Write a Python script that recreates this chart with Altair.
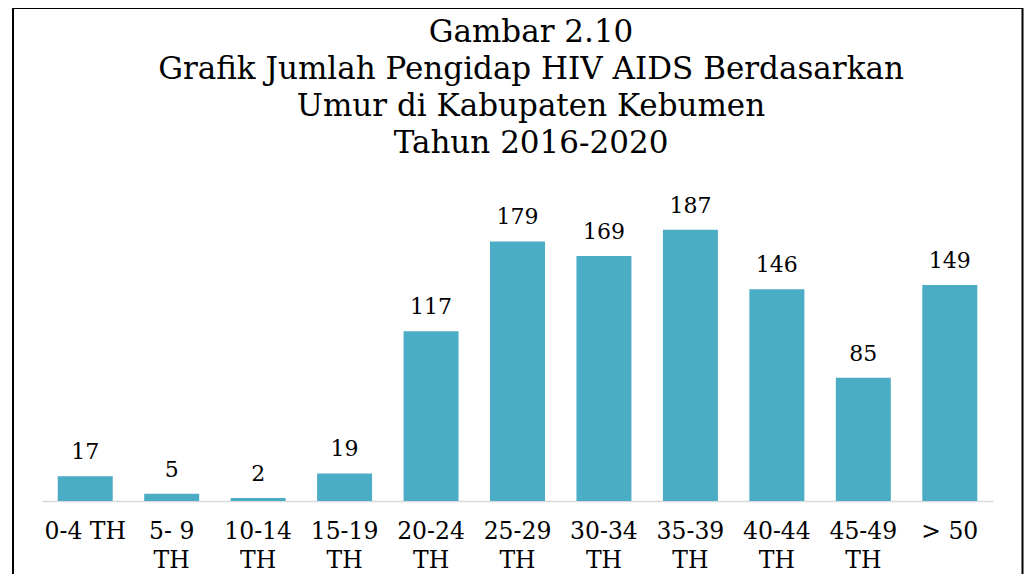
import altair as alt
import pandas as pd

categories = ["0-4 TH", "5- 9 TH", "10-14 TH", "15-19 TH", "20-24 TH", "25-29 TH",
              "30-34 TH", "35-39 TH", "40-44 TH", "45-49 TH", "> 50"]
values = [17, 5, 2, 19, 117, 179, 169, 187, 146, 85, 149]
title_lines = ["Gambar 2.10", "Grafik Jumlah Pengidap HIV AIDS Berdasarkan",
               "Umur di Kabupaten Kebumen", "Tahun 2016-2020"]

df = pd.DataFrame({"umur": categories, "jumlah": values})

W, H = 951, 290
PL, PT = 34, 203
PR = 1016 - PL - W
PB = 566 - PT - H
FONT = "DejaVu Serif"

xenc = alt.X("umur:N", sort=categories, title=None,
             scale=alt.Scale(paddingInner=0.364, paddingOuter=0.182),
             axis=alt.Axis(labelAngle=0, ticks=False, domainColor="#d9d9d9", domainWidth=1.5,
                           labelFont=FONT, labelFontSize=23.5, labelColor="#000000",
                           labelLineHeight=29, labelPadding=18, labelBaseline="top",
                           labelExpr="datum.label != '0-4 TH' && indexof(datum.label, ' TH') > 0 ? [replace(datum.label, ' TH', ''), 'TH'] : datum.label"))
yenc = alt.Y("jumlah:Q", scale=alt.Scale(domain=[0, 200]), axis=None)

bars = alt.Chart(df).mark_bar(color="#4BACC6").encode(x=xenc, y=yenc)
labels = alt.Chart(df).mark_text(font=FONT, fontSize=22, color="#000000", dy=-17,
                                 baseline="alphabetic").encode(
    x=alt.X("umur:N", sort=categories), y="jumlah:Q", text="jumlah:Q")

frame = alt.Chart(alt.Data(values=[{"f": 1}])).mark_rect(
    fill="transparent", stroke="#000000", strokeWidth=2).encode(
    x=alt.value(13 - 42), x2=alt.value(1022.5 - 42),
    y=alt.value(8 - 211), y2=alt.value(650 - 211))

title = alt.Chart(alt.Data(values=[{"t": "\n".join(title_lines)}])).mark_text(
    font=FONT, fontSize=31, color="#000000", lineHeight=37, lineBreak="\n",
    align="center", baseline="alphabetic").encode(
    text="t:N", x=alt.value(531 - 42), y=alt.value(42 - 211))

chart = alt.layer(frame, title, bars, labels).properties(
    width=W, height=H,
    padding={"left": PL, "top": PT, "right": PR, "bottom": PB},
    autosize=alt.AutoSizeParams(type="none"),
).configure_view(stroke=None).configure_axis(grid=False)

chart.save("out.html", embed_options={"renderer": "svg", "actions": False})
